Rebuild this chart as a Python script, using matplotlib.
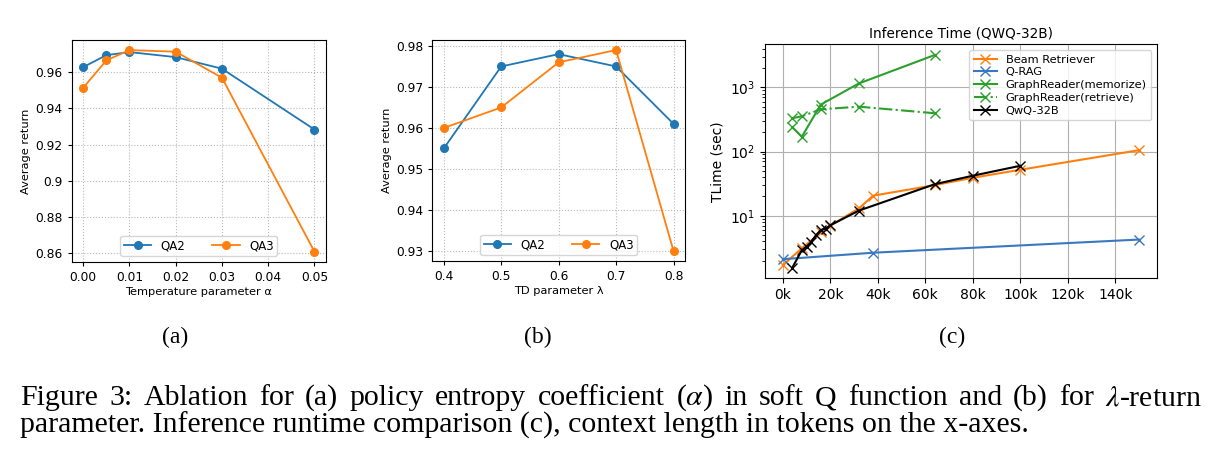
import matplotlib
matplotlib.use("Agg")
import matplotlib.pyplot as plt
from matplotlib.ticker import FuncFormatter, FixedLocator

# ---------------- data ----------------
alpha_vals = [0.0, 0.005, 0.01, 0.02, 0.03, 0.05]
alpha_qa2 = [0.9628, 0.9694, 0.9711, 0.9683, 0.9619, 0.9283]
alpha_qa3 = [0.9514, 0.9665, 0.9722, 0.9713, 0.9569, 0.8608]

lambda_vals = [0.4, 0.5, 0.6, 0.7, 0.8]
lambda_qa2 = [0.955, 0.975, 0.978, 0.975, 0.961]
lambda_qa3 = [0.960, 0.965, 0.976, 0.979, 0.930]

beam_x = [0, 8000, 16000, 20000, 32000, 38000, 64000, 80000, 100000, 150000]
beam_y = [1.7, 3.1, 5.5, 7.0, 13.0, 20.5, 30.0, 39.0, 52.0, 105.0]
qrag_x = [0, 38000, 150000]
qrag_y = [2.1, 2.65, 4.25]
gr_mem_x = [4000, 8000, 16000, 32000, 64000]
gr_mem_y = [240, 170, 540, 1150, 3200]
gr_ret_x = [4000, 8000, 16000, 32000, 64000]
gr_ret_y = [330, 355, 455, 500, 395]
qwq_x = [4000, 8000, 10000, 12000, 14000, 16000, 18000, 20000, 32000, 64000, 80000, 100000]
qwq_y = [1.55, 2.9, 3.3, 3.9, 5.0, 6.0, 6.3, 7.1, 12.0, 31.0, 42.0, 60.0]
tokens_ticks = [0, 20000, 40000, 60000, 80000, 100000, 120000, 140000]

caption_line1 = r"Figure 3:  Ablation for (a) policy entropy coefficient ($\alpha$) in soft Q function and (b) for $\lambda$-return"
caption_line2 = "parameter. Inference runtime comparison (c), context length in tokens on the x-axes."
sub_labels = ["(a)", "(b)", "(c)"]

C_BLUE = "#1f77b4"
C_ORANGE = "#ff7f0e"
C_GREEN = "#2ca02c"

W, H = 1219, 461
fig = plt.figure(figsize=(W / 100, H / 100), dpi=100)


def frac(left, top, right, bottom):
    return [left / W, 1 - bottom / H, (right - left) / W, (bottom - top) / H]


TICK = 8.8
LAB = 8.2

# ---------------- panel a ----------------
ax1 = fig.add_axes(frac(71.7, 40, 326, 261.7))
ax1.plot(alpha_vals, alpha_qa2, "-o", color=C_BLUE, ms=5.5, lw=1.3, label="QA2")
ax1.plot(alpha_vals, alpha_qa3, "-o", color=C_ORANGE, ms=5.5, lw=1.3, label="QA3")
ax1.xaxis.set_major_locator(FixedLocator([0.0, 0.01, 0.02, 0.03, 0.04, 0.05]))
ax1.xaxis.set_major_formatter(FuncFormatter(lambda v, p: f"{v:.2f}"))
ax1.yaxis.set_major_locator(FixedLocator([0.86, 0.88, 0.90, 0.92, 0.94, 0.96]))
ax1.yaxis.set_major_formatter(FuncFormatter(lambda v, p: f"{v:g}"))
ax1.grid(True, linestyle=":", color="#b8b8b8", lw=0.8)
ax1.tick_params(labelsize=TICK, length=3)
ax1.set_xlabel("Temperature parameter α", fontsize=LAB, labelpad=2)
ax1.set_ylabel("Average return", fontsize=LAB, labelpad=3)
ax1.legend(loc="lower center", ncol=2, fontsize=8.5, handlelength=2.3,
           columnspacing=2.3, borderpad=0.3, handletextpad=0.8)

# ---------------- panel b ----------------
ax2 = fig.add_axes(frac(432.3, 40, 685, 261))
ax2.plot(lambda_vals, lambda_qa2, "-o", color=C_BLUE, ms=5.5, lw=1.3, label="QA2")
ax2.plot(lambda_vals, lambda_qa3, "-o", color=C_ORANGE, ms=5.5, lw=1.3, label="QA3")
ax2.xaxis.set_major_locator(FixedLocator([0.4, 0.5, 0.6, 0.7, 0.8]))
ax2.xaxis.set_major_formatter(FuncFormatter(lambda v, p: f"{v:.1f}"))
ax2.yaxis.set_major_locator(FixedLocator([0.93, 0.94, 0.95, 0.96, 0.97, 0.98]))
ax2.yaxis.set_major_formatter(FuncFormatter(lambda v, p: f"{v:.2f}"))
ax2.grid(True, linestyle=":", color="#b8b8b8", lw=0.8)
ax2.tick_params(labelsize=TICK, length=3)
ax2.set_xlabel("TD parameter λ", fontsize=LAB, labelpad=2)
ax2.set_ylabel("Average return", fontsize=LAB, labelpad=3)
ax2.legend(loc="lower center", ncol=2, fontsize=8.5, handlelength=2.3,
           columnspacing=2.3, borderpad=0.3, handletextpad=0.8)

# ---------------- panel c ----------------
ax3 = fig.add_axes(frac(765, 44.3, 1157, 278.3))
ax3.plot(beam_x, beam_y, "-x", color=C_ORANGE, ms=7, lw=1.5, label="Beam Retriever")
ax3.plot(qrag_x, qrag_y, "-x", color="#3a78c0", ms=7, lw=1.5, label="Q-RAG")
ax3.plot(gr_mem_x, gr_mem_y, "-x", color=C_GREEN, ms=7, lw=1.5, label="GraphReader(memorize)")
ax3.plot(gr_ret_x, gr_ret_y, "-.x", color=C_GREEN, ms=7, lw=1.5, label="GraphReader(retrieve)")
ax3.plot(qwq_x, qwq_y, "-x", color="black", ms=7, lw=1.5, label="QwQ-32B")
ax3.set_yscale("log")
ax3.xaxis.set_major_locator(FixedLocator(tokens_ticks))
ax3.xaxis.set_major_formatter(FuncFormatter(lambda v, p: f"{int(round(v / 1000))}k"))
ax3.grid(True, which="major", color="#b0b0b0", lw=0.8)
ax3.tick_params(labelsize=10)
ax3.set_ylabel("TLime (sec)", fontsize=10)
ax3.set_title("Inference Time (QWQ-32B)", fontsize=9.8, pad=5)
ax3.legend(loc="upper right", fontsize=8.2, handlelength=2.0, borderpad=0.4,
           labelspacing=0.25)

# ---------------- sub labels & caption ----------------
SERIF = ["Liberation Serif", "DejaVu Serif"]
for lab, xc in zip(sub_labels, [175, 538, 952]):
    fig.text(xc / W, 1 - 343 / H, lab, ha="center", va="baseline", fontsize=17,
             family=SERIF)

renderer = fig.canvas.get_renderer()
left_px, right_px = 20, 1202
line2_right = 1027

# line 2: font size chosen so the line spans the measured width
t2 = fig.text(left_px / W, 1 - 433 / H, caption_line2, fontsize=10, family=SERIF,
              va="baseline", ha="left")
w10 = t2.get_window_extent(renderer).width
cap_fs = 10 * (line2_right - left_px) / w10
t2.set_fontsize(cap_fs)

# line 1: justified across the full width
words = [w_ for w_ in caption_line1.split(" ") if w_]
word_texts, widths = [], []
for w_ in words:
    t = fig.text(0, 1 - 405 / H, w_, fontsize=cap_fs, family=SERIF,
                 math_fontfamily="stix", va="baseline", ha="left")
    word_texts.append(t)
    widths.append(t.get_window_extent(renderer).width)
gap = (right_px - left_px - sum(widths)) / (len(widths) - 1)
x = left_px
for t, wd in zip(word_texts, widths):
    t.set_x(x / W)
    x += wd + gap

fig.savefig("out.png", dpi=100)
